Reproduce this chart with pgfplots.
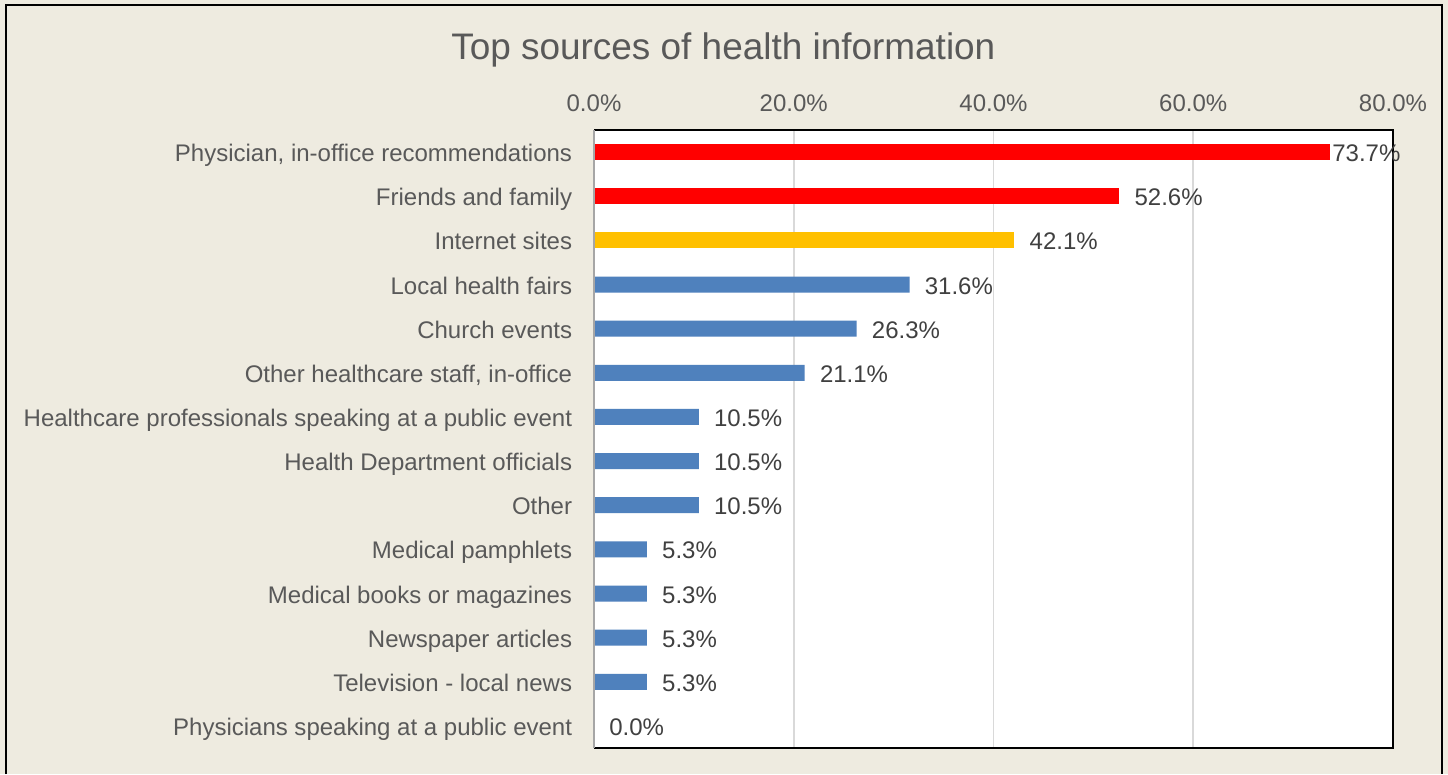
\documentclass[border=0pt]{standalone}
\usepackage{pgfplots}
\pgfplotsset{compat=1.18}
\usepackage{fontspec}
\setmainfont{Liberation Sans}
\pgfkeys{/pgf/number format/assume math mode=true}
\definecolor{bgc}{HTML}{EEEBE0}
\definecolor{txt}{HTML}{595959}
\definecolor{lbl}{HTML}{404040}
\definecolor{gridc}{HTML}{D9D9D9}
\definecolor{redbar}{HTML}{FF0000}
\definecolor{goldbar}{HTML}{FFC000}
\definecolor{bluebar}{HTML}{4F81BD}
\begin{document}
\begin{tikzpicture}
\useasboundingbox (0,0) rectangle (1086pt,580.5pt);
\fill[bgc] (0,0) rectangle (1086pt,580.5pt);
\draw[black, line width=1.5pt] (4.5pt,0pt) -- (4.5pt,576.75pt) -- (1081.5pt,576.75pt) -- (1081.5pt,0pt);
\node[anchor=base, text=txt, font=\fontsize{27.7}{33}\selectfont, inner sep=0pt] at (542.5pt,535.5pt) {Top sources of health information};
\begin{axis}[
  at={(445.5pt,19.5pt)}, anchor=south west,
  scale only axis, width=599.25pt, height=463.5pt,
  xbar, bar width=12pt, bar shift=0pt,
  xmin=0, xmax=80, ymin=-0.5, ymax=13.5,
  y dir=reverse,
  axis line style={draw=none},
  axis background/.style={fill=white},
  xtick={0,20,40,60,80},
  xticklabel pos=top,
  /pgf/number format/assume math mode=true,
  xticklabel={\pgfmathprintnumber[fixed,fixed zerofill,precision=1,assume math mode=true]{\tick}\%},
  xmajorgrids, major grid style={gridc, line width=1.2pt},
  ytick={0,...,13},
  yticklabels={Physician{,} in-office recommendations, Friends and family, Internet sites, Local health fairs, Church events, {Other healthcare staff, in-office}, Healthcare professionals speaking at a public event, Health Department officials, Other, Medical pamphlets, Medical books or magazines, Newspaper articles, Television - local news, Physicians speaking at a public event},
  major tick length=0pt,
  tick label style={font=\fontsize{18}{21.6}\selectfont, text=txt, inner sep=0pt},
  yticklabel style={anchor=base east, xshift=-16.25pt, yshift=-7.2pt},
  xticklabel style={anchor=base, yshift=14pt},
  point meta=x,
  nodes near coords={\pgfmathprintnumber[fixed,fixed zerofill,precision=1,assume math mode=true]{\pgfplotspointmeta}\%},
  every node near coord/.append style={anchor=base west, inner sep=0pt, xshift=11.25pt, yshift=-7.2pt, text=lbl, font=\fontsize{18}{21.6}\selectfont},
  clip=false,
]
\addplot[fill=redbar, draw=none, every node near coord/.append style={xshift=-9.75pt}] coordinates {(73.7,0)};
\addplot[fill=redbar, draw=none] coordinates {(52.6,1)};
\addplot[fill=goldbar, draw=none] coordinates {(42.1,2)};
\addplot[fill=bluebar, draw=none] coordinates {(31.6,3) (26.3,4) (21.1,5) (10.5,6) (10.5,7) (10.5,8) (5.3,9) (5.3,10) (5.3,11) (5.3,12) (0.0,13)};
\draw[black, line width=1.3pt] (rel axis cs:0,1) -- (rel axis cs:1,1) -- (rel axis cs:1,0) -- (rel axis cs:0,0);
\draw[gray!70, line width=1.2pt] (rel axis cs:0,0) -- (rel axis cs:0,1);
\end{axis}
\end{tikzpicture}
\end{document}
